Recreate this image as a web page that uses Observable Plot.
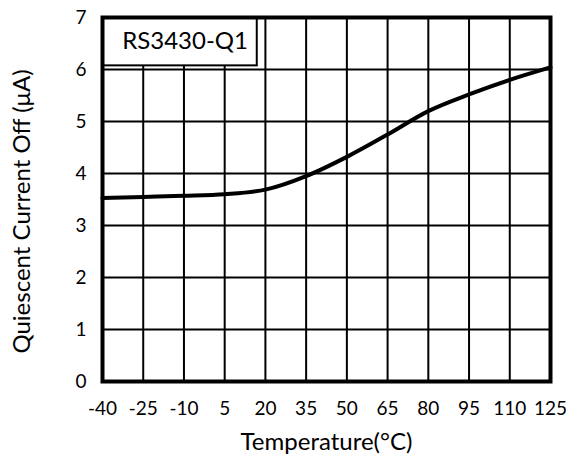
<!DOCTYPE html>
<html>
<head>
<meta charset="utf-8">
<script src="https://cdn.jsdelivr.net/npm/d3@7"></script>
<script src="https://cdn.jsdelivr.net/npm/@observablehq/plot@0.6"></script>
<style>
  html, body { margin: 0; padding: 0; background: #fff; }
  svg { display: block; font-variant-numeric: tabular-nums; }
</style>
</head>
<body>
<div id="chart"></div>
<script>
const temps = [-40, -25, -10, 5, 20, 35, 50, 65, 80, 95, 110, 125];
const current = [3.53, 3.55, 3.57, 3.60, 3.69, 3.95, 4.32, 4.75, 5.20, 5.52, 5.80, 6.04];
const xTicks = [-40, -25, -10, 5, 20, 35, 50, 65, 80, 95, 110, 125];
const yTicks = [0, 1, 2, 3, 4, 5, 6, 7];
const seriesName = "RS3430-Q1";
const xTitle = "Temperature(°C)";
const yTitle = "Quiescent Current Off (μA)";
const labelBox = [{x1: -40, x2: 17, y1: 6.07, y2: 7, tx: -9.6, ty: 6.55, name: seriesName}];

const data = temps.map((t, i) => ({t, v: current[i]}));
const fmt = d => String(d);

const chart = Plot.plot({
  width: 568,
  height: 458,
  marginLeft: 102,
  marginRight: 18,
  marginTop: 17,
  marginBottom: 77,
  style: {fontFamily: "Lato", fontSize: "19px", color: "#000", background: "#fff"},
  x: {domain: [-40, 125]},
  y: {domain: [0, 7]},
  marks: [
    Plot.ruleX(xTicks.slice(1, -1), {stroke: "black", strokeWidth: 2}),
    Plot.ruleY(yTicks.slice(1, -1), {stroke: "black", strokeWidth: 2}),
    Plot.axisX({ticks: xTicks, tickSize: 0, tickPadding: 20, tickFormat: fmt, label: null}),
    Plot.axisY({ticks: yTicks, tickSize: 0, tickPadding: 16, tickFormat: fmt, label: null}),
    Plot.text([xTitle], {frameAnchor: "bottom", textAnchor: "middle", lineAnchor: "middle", dy: 61, fontSize: 24, fill: "black"}),
    Plot.text([yTitle], {frameAnchor: "left", textAnchor: "middle", lineAnchor: "middle", rotate: -90, dx: -80, dy: 12, fontSize: 24, fill: "black"}),
    Plot.rect(labelBox, {x1: "x1", x2: "x2", y1: "y1", y2: "y2", fill: "white", stroke: "black", strokeWidth: 2}),
    Plot.text(labelBox, {x: "tx", y: "ty", text: "name", fontSize: 24, fill: "black"}),
    Plot.line(data, {x: "t", y: "v", stroke: "black", strokeWidth: 4, curve: "monotone-x"}),
    Plot.frame({stroke: "black", strokeWidth: 4})
  ]
});
document.getElementById("chart").appendChild(chart);
</script>
</body>
</html>
